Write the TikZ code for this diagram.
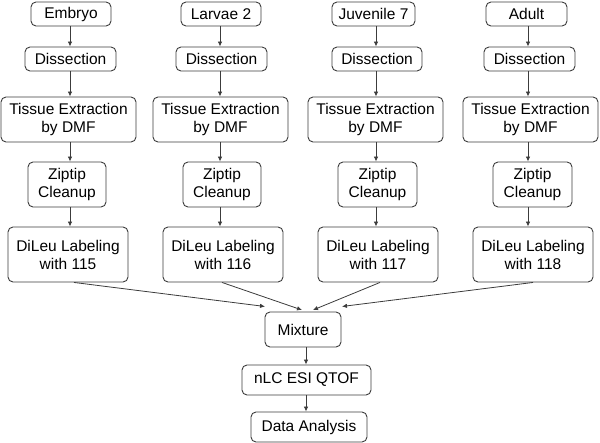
\documentclass[tikz,border=0pt]{standalone}
\usepackage{fontspec}
\setmainfont{Liberation Sans}
\usetikzlibrary{arrows.meta,calc}
\definecolor{edgegray}{RGB}{60,60,60}
\begin{document}
\begin{tikzpicture}[x=1pt,y=-1pt,
  box/.style={draw=edgegray,line width=0.9pt,rounded corners=5pt,fill=white,
    inner sep=0pt,align=center,font=\fontsize{15.5}{18}\selectfont,text=black},
  arr/.style={draw=edgegray,line width=0.8pt,-{Latex[length=5pt,width=4.5pt]}}]
\useasboundingbox (0,0) rectangle (600,443);
% column 1
\node[box,minimum width=80pt,minimum height=24pt] (a1) at (71,14) {Embryo};
\node[box,minimum width=91pt,minimum height=24pt] (b1) at (70.5,59) {Dissection};
\node[box,minimum width=135pt,minimum height=45pt] (c1) at (68.5,119.5) {Tissue Extraction\\by DMF};
\node[box,minimum width=78pt,minimum height=45pt] (e1) at (67,184.5) {Ziptip\\Cleanup};
\node[box,minimum width=120pt,minimum height=55pt] (f1) at (68,254.5) {DiLeu Labeling\\with 115};
% column 2
\node[box,minimum width=80pt,minimum height=24pt] (a2) at (221,14) {Larvae 2};
\node[box,minimum width=91pt,minimum height=24pt] (b2) at (221.5,59) {Dissection};
\node[box,minimum width=135pt,minimum height=45pt] (c2) at (220.5,119.5) {Tissue Extraction\\by DMF};
\node[box,minimum width=78pt,minimum height=45pt] (e2) at (222,184.5) {Ziptip\\Cleanup};
\node[box,minimum width=120pt,minimum height=55pt] (f2) at (223,254.5) {DiLeu Labeling\\with 116};
% column 3
\node[box,minimum width=83pt,minimum height=24pt] (a3) at (373.5,14) {Juvenile 7};
\node[box,minimum width=90pt,minimum height=24pt] (b3) at (377,59) {Dissection};
\node[box,minimum width=135pt,minimum height=45pt] (c3) at (375.5,119.5) {Tissue Extraction\\by DMF};
\node[box,minimum width=79pt,minimum height=45pt] (e3) at (377.5,184.5) {Ziptip\\Cleanup};
\node[box,minimum width=120pt,minimum height=55pt] (f3) at (378,254.5) {DiLeu Labeling\\with 117};
% column 4
\node[box,minimum width=81pt,minimum height=24pt] (a4) at (526.5,14) {Adult};
\node[box,minimum width=91pt,minimum height=24pt] (b4) at (529.5,59) {Dissection};
\node[box,minimum width=135pt,minimum height=45pt] (c4) at (530.5,119.5) {Tissue Extraction\\by DMF};
\node[box,minimum width=79pt,minimum height=45pt] (e4) at (532.5,184.5) {Ziptip\\Cleanup};
\node[box,minimum width=120pt,minimum height=55pt] (f4) at (533,254.5) {DiLeu Labeling\\with 118};
% bottom
\node[box,minimum width=76pt,minimum height=35pt] (mix) at (303,329.5) {Mixture};
\node[box,minimum width=129pt,minimum height=30pt] (lc) at (306.5,380) {nLC ESI QTOF};
\node[box,minimum width=116pt,minimum height=30pt] (da) at (309,427) {Data Analysis};
% vertical connectors
\foreach \c/\x in {1/70,2/220,3/376,4/528}{
  \draw[arr] (a\c.south -| \x,0) -- (b\c.north -| \x,0);
  \draw[arr] (b\c.south -| \x,0) -- (c\c.north -| \x,0);
  \draw[arr] (c\c.south -| \x,0) -- (e\c.north -| \x,0);
  \draw[arr] (e\c.south -| \x,0) -- (f\c.north -| \x,0);
}
% converging connectors
\coordinate (m1) at (265,306.5);
\coordinate (m2) at (302,310);
\coordinate (m3) at (313,310);
\coordinate (m4) at (342,306.5);
\draw[arr] (f1.south -| 74,0) -- (m1);
\draw[arr] (f2.south -| 222,0) -- (m2);
\draw[arr] (f3.south -| 380,0) -- (m3);
\draw[arr] (f4.south -| 533,0) -- (m4);
\draw[arr] (mix.south -| 306,0) -- (lc.north -| 306,0);
\draw[arr] (lc.south -| 306,0) -- (da.north -| 306,0);
\end{tikzpicture}
\end{document}
